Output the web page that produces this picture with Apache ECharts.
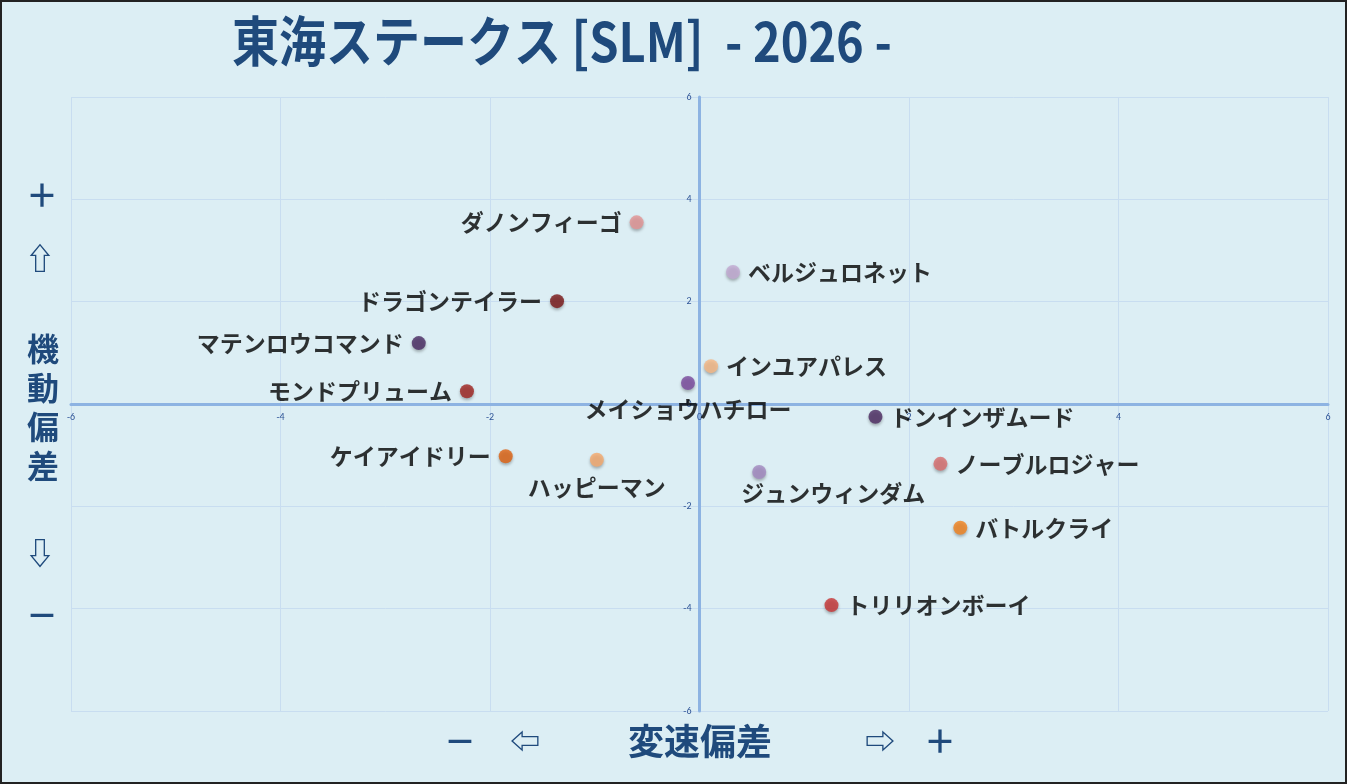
<!DOCTYPE html>
<html>
<head>
<meta charset="utf-8">
<script src="https://cdn.jsdelivr.net/npm/echarts@6/dist/echarts.min.js"></script>
<style>
html,body{margin:0;padding:0;background:#DCEEF4;}
#main{width:1347px;height:784px;}
</style>
</head>
<body>
<div id="main"></div>
<script>
//馬名
var horseNames = ['ダノンフィーゴ','ベルジュロネット','ドラゴンテイラー','マテンロウコマンド','インユアパレス','メイショウハチロー','モンドプリューム',
    'ドンインザムード','ケイアイドリー','ハッピーマン','ノーブルロジャー','ジュンウィンダム','バトルクライ','トリリオンボーイ'];
//変速偏差(x)
var xValues = [-0.60, 0.32, -1.36, -2.68, 0.11, -0.11, -2.22, 1.68, -1.85, -0.98, 2.30, 0.57, 2.49, 1.26];
//機動偏差(y)
var yValues = [3.55, 2.58, 2.01, 1.19, 0.74, 0.41, 0.25, -0.25, -1.02, -1.09, -1.17, -1.33, -2.42, -3.93];
//軸目盛
var axisTicks = [-6, -4, -2, 0, 2, 4, 6];

//点の色
var dotColors = ['#E39494','#C2A9D2','#7A1616','#4A2B63','#F7B883','#7A4A9E','#A0231E',
    '#4C2A62','#E0620F','#F6A96C','#D96D6D','#A388C0','#F2821C','#C83434'];
//ラベル位置
var labelPlace = {
    'ダノンフィーゴ': {position:'left'},
    'ドラゴンテイラー': {position:'left'},
    'マテンロウコマンド': {position:'left'},
    'モンドプリューム': {position:'left'},
    'ケイアイドリー': {position:'left'},
    'メイショウハチロー': {position:'bottom', distance:8},
    'ハッピーマン': {position:'bottom', distance:9},
    'ジュンウィンダム': {position:'bottom', distance:3, offset:[74,0]}
};

var scatterData = [];
for (var i = 0; i < horseNames.length; i++) {
    var lp = labelPlace[horseNames[i]] || {position:'right'};
    scatterData.push({
        name: horseNames[i],
        value: [xValues[i], yValues[i]],
        itemStyle: {color: dotColors[i]},
        label: lp
    });
}

var titleColor = '#1F4A7C';
var bigFont = '"Noto Sans CJK JP","DejaVu Sans",sans-serif';
var tickFont = {color: '#2F5597', fontSize: 10, margin: 8, fontFamily: 'Calibri, "Liberation Sans", sans-serif'};

var myChart = echarts.init(document.getElementById('main'));

var option = {
    backgroundColor: '#DCEEF4',
    animation: false,
    grid: {left: 71, right: 19, top: 97, bottom: 73},
    xAxis: {
        type: 'value',
        min: axisTicks[0],
        max: axisTicks[axisTicks.length - 1],
        interval: 2,
        offset: -307,
        axisLine: {onZero: false, lineStyle: {color: '#8DB3E2', width: 3}},
        axisTick: {show: false},
        axisLabel: tickFont,
        splitLine: {lineStyle: {color: '#C8DDF0', width: 1}}
    },
    yAxis: {
        type: 'value',
        min: axisTicks[0],
        max: axisTicks[axisTicks.length - 1],
        interval: 2,
        offset: -628.5,
        axisLine: {onZero: false, lineStyle: {color: '#8DB3E2', width: 3}},
        axisTick: {show: false},
        axisLabel: tickFont,
        splitLine: {lineStyle: {color: '#C8DDF0', width: 1}}
    },
    series: [{
        type: 'scatter',
        symbolSize: 14,
        data: scatterData,
        itemStyle: {
            shadowBlur: 3,
            shadowColor: 'rgba(0,0,0,0.35)',
            shadowOffsetY: 2
        },
        label: {
            show: true,
            formatter: '{b}',
            color: '#000',
            fontSize: 23,
            fontWeight: 'bold',
            fontFamily: '"Noto Sans CJK JP", sans-serif',
            distance: 8
        }
    }],
    graphic: [
        {type: 'rect', shape: {x: 1, y: 1, width: 1345, height: 782}, style: {fill: 'none', stroke: '#222', lineWidth: 2}, silent: true},
        {type: 'text', left: 232, top: 14, scaleX: 0.87,
            style: {text: '東海ステークス [SLM]  - 2026 -', fill: titleColor, font: 'bold 54px ' + bigFont}},
        {type: 'text', x: 42, y: 195, style: {text: '＋', fill: titleColor, font: 'bold 32px ' + bigFont, align: 'center', verticalAlign: 'middle'}},
        {type: 'text', x: 40, y: 258, style: {text: '⇧', fill: titleColor, font: 'bold 30px ' + bigFont, align: 'center', verticalAlign: 'middle'}},
        {type: 'text', x: 43, y: 407, style: {text: '機\n動\n偏\n差', fill: titleColor, font: 'bold 32px ' + bigFont, lineHeight: 39, align: 'center', verticalAlign: 'middle'}},
        {type: 'text', x: 40, y: 553, style: {text: '⇩', fill: titleColor, font: 'bold 30px ' + bigFont, align: 'center', verticalAlign: 'middle'}},
        {type: 'text', x: 42, y: 615, style: {text: '－', fill: titleColor, font: 'bold 32px ' + bigFont, align: 'center', verticalAlign: 'middle'}},
        {type: 'text', x: 460, y: 741, style: {text: '－', fill: titleColor, font: 'bold 32px ' + bigFont, align: 'center', verticalAlign: 'middle'}},
        {type: 'text', x: 525, y: 741, style: {text: '⇦', fill: titleColor, font: 'bold 30px ' + bigFont, align: 'center', verticalAlign: 'middle'}},
        {type: 'text', x: 700, y: 741, style: {text: '変速偏差', fill: titleColor, font: 'bold 36px ' + bigFont, align: 'center', verticalAlign: 'middle'}},
        {type: 'text', x: 880, y: 741, style: {text: '⇨', fill: titleColor, font: 'bold 30px ' + bigFont, align: 'center', verticalAlign: 'middle'}},
        {type: 'text', x: 940, y: 741, style: {text: '＋', fill: titleColor, font: 'bold 32px ' + bigFont, align: 'center', verticalAlign: 'middle'}}
    ]
};

myChart.setOption(option);
</script>
</body>
</html>
